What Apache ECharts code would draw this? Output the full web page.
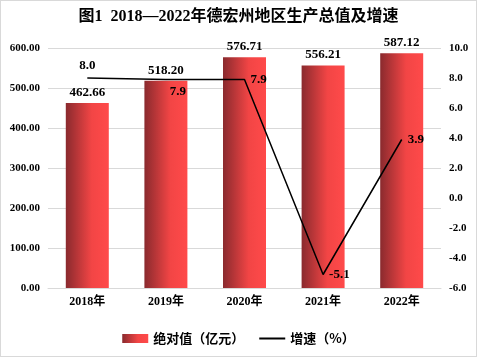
<!DOCTYPE html>
<html><head><meta charset="utf-8">
<script src="https://cdn.jsdelivr.net/npm/echarts@6/dist/echarts.min.js"></script>
<style>html,body{margin:0;padding:0;background:#fff}#c{width:475px;height:355px;border:1px solid #d9d9d9}</style>
</head><body><div id="c"></div>
<script>
const categories = ['2018年','2019年','2020年','2021年','2022年'];
const gdpValues = [462.66, 518.20, 576.71, 556.21, 587.12];
const growthValues = [8.0, 7.9, 7.9, -5.1, 3.9];
const leftTicks = [0, 100, 200, 300, 400, 500, 600];
const rightTicks = [-6, -4, -2, 0, 2, 4, 6, 8, 10];
const growthLabelPos = ['top', 'bottom', 'right', 'right', 'right'];
const growthLabelOffset = [[0,0],[12,0],[0,0],[0,0],[0,0]];

const serif = '"Liberation Serif","Times New Roman",serif';
const cjk = '"Noto Sans CJK SC",sans-serif';
const chart = echarts.init(document.getElementById('c'));
const grad = new echarts.graphic.LinearGradient(0,0,1,0,[{offset:0,color:'#8a2a2e'},{offset:0.6,color:'#f24545'},{offset:1,color:'#ff4a4a'}]);
chart.setOption({
  animation:false,
  title:{text:'图1  2018—2022年德宏州地区生产总值及增速',left:'center',top:3,
    textStyle:{fontFamily:serif+','+cjk,fontSize:16,fontWeight:'bold',color:'#000'}},
  grid:{left:47,right:35,top:47,bottom:68},
  legend:{bottom:6,left:'center',itemGap:14,itemWidth:26,itemHeight:9,
    textStyle:{fontFamily:cjk,fontSize:13,fontWeight:'bold',color:'#000'},
    data:[{name:'绝对值（亿元）',icon:'rect'},{name:'增速（%）',itemStyle:{opacity:0}}]},
  xAxis:{type:'category',data:categories,axisTick:{show:false},
    axisLine:{lineStyle:{color:'#d9d9d9'}},
    axisLabel:{color:'#000',fontSize:12,fontWeight:'bold',fontFamily:serif+','+cjk,margin:8}},
  yAxis:[{type:'value',min:leftTicks[0],max:leftTicks[leftTicks.length-1],interval:100,
    axisLabel:{color:'#000',fontSize:11,fontWeight:'bold',fontFamily:serif,formatter:v=>v.toFixed(2)},
    splitLine:{lineStyle:{color:'#d9d9d9'}},axisLine:{show:false},axisTick:{show:false}},
   {type:'value',min:rightTicks[0],max:rightTicks[rightTicks.length-1],interval:2,
    axisLabel:{color:'#000',fontSize:11,fontWeight:'bold',fontFamily:serif,margin:8,formatter:v=>v.toFixed(1)},
    splitLine:{show:false},axisLine:{show:false},axisTick:{show:false}}],
  series:[
   {name:'绝对值（亿元）',type:'bar',data:gdpValues,barWidth:43,itemStyle:{color:grad},
    label:{show:true,position:'top',distance:4,color:'#000',fontSize:13,fontWeight:'bold',fontFamily:serif,formatter:p=>p.value.toFixed(2)}},
   {name:'增速（%）',type:'line',yAxisIndex:1,symbol:'circle',symbolSize:2,showSymbol:true,
    lineStyle:{color:'#000',width:1.5},itemStyle:{color:'rgba(0,0,0,0)',borderWidth:0},
    data:growthValues.map((v,i)=>({value:v,label:{position:growthLabelPos[i],offset:growthLabelOffset[i]}})),
    label:{show:true,color:'#000',fontSize:13,fontWeight:'bold',fontFamily:serif,formatter:p=>p.value.toFixed(1)}}
  ]
});
</script></body></html>
